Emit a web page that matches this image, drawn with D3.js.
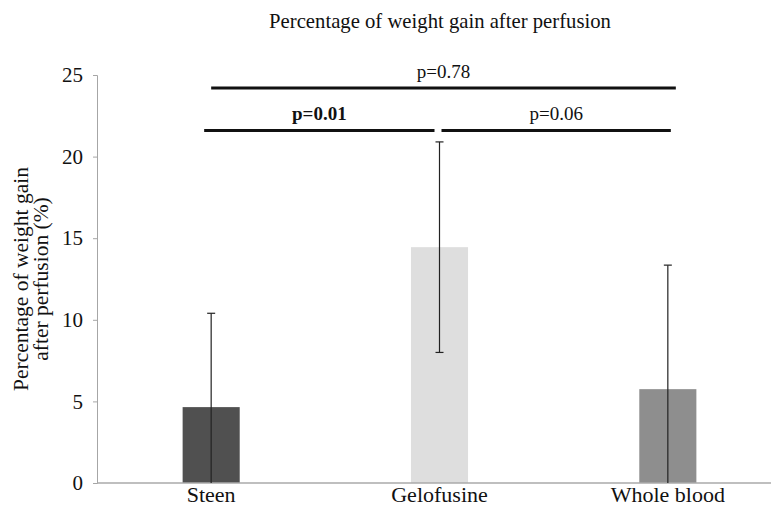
<!DOCTYPE html>
<html>
<head>
<meta charset="utf-8">
<script src="https://cdn.jsdelivr.net/npm/d3@7"></script>
</head>
<body style="margin:0; background:#fff">
<svg id="chart" width="771" height="506"></svg>
<script>
// data
const categories = ["Steen", "Gelofusine", "Whole blood"];
const means = [4.65, 14.45, 5.75];
const errors = [5.75, 6.45, 7.6];
const barColors = ["#505050", "#dedede", "#8e8e8e"];
const yTicks = [0, 5, 10, 15, 20, 25];

// significance brackets (level 0 = lower row)
const brackets = [
  { from: 0, to: 1, label: "p=0.01", bold: true, level: 0 },
  { from: 1, to: 2, label: "p=0.06", bold: false, level: 0 },
  { from: 0, to: 2, label: "p=0.78", bold: false, level: 1 }
];
const bracketLevels = [21.6, 24.2];

const FONT = '"Times New Roman", Tinos, "Liberation Serif"';
const svg = d3.select("#chart");
const plotLeft = 97, plotRight = 782, plotTop = 75, plotBottom = 483;

// every label gets the same serif face
function serif(sel, size) {
  return sel
    .style("font-family", FONT)
    .style("font-size", size + "px")
    .style("fill", "#111");
}

const x = d3.scaleBand()
  .domain(categories)
  .range([plotLeft, plotRight])
  .paddingInner(0.75)
  .paddingOuter(0.375);

const y = d3.scaleLinear().domain([0, 25]).range([plotBottom, plotTop]);

// title
serif(svg.append("text"), 20.7)
  .attr("x", 440).attr("y", 28)
  .attr("text-anchor", "middle")
  .text("Percentage of weight gain after perfusion");

// y axis
const yAxis = svg.append("g")
  .attr("transform", `translate(${plotLeft},0)`)
  .call(d3.axisLeft(y).tickValues(yTicks).tickSize(4).tickPadding(10));
yAxis.attr("font-family", null).attr("font-size", null);
yAxis.select(".domain").attr("stroke", "#a6a6a6");
yAxis.selectAll(".tick line").attr("stroke", "#a6a6a6");
serif(yAxis.selectAll(".tick text"), 21);

// y label, two lines
const yLabelLines = ["Percentage of weight gain", "after perfusion (%)"];
serif(svg.selectAll(".ylab")
  .data(yLabelLines)
  .enter()
  .append("text")
  .attr("class", "ylab"), 21.5)
  .attr("transform", (d, i) => `translate(${28 + i * 20},279) rotate(-90)`)
  .attr("text-anchor", "middle")
  .text(d => d);

// bars
svg.selectAll(".bar")
  .data(categories)
  .enter()
  .append("rect")
  .attr("class", "bar")
  .attr("x", d => x(d))
  .attr("width", x.bandwidth())
  .attr("y", (d, i) => y(means[i]))
  .attr("height", (d, i) => y(0) - y(means[i]))
  .attr("fill", (d, i) => barColors[i]);

// x axis line
svg.append("line")
  .attr("x1", plotLeft).attr("x2", 771)
  .attr("y1", y(0)).attr("y2", y(0))
  .attr("stroke", "#aaa").attr("stroke-width", 1.5);

// error bars (lower end clipped at 0)
const eb = svg.selectAll(".err")
  .data(categories)
  .enter()
  .append("g")
  .attr("class", "err")
  .attr("stroke", "#222")
  .attr("stroke-width", 1.2);

eb.each(function (d, i) {
  const g = d3.select(this);
  const cx = x(d) + x.bandwidth() / 2;
  const hi = means[i] + errors[i];
  const lo = Math.max(0, means[i] - errors[i]);
  g.append("line").attr("x1", cx).attr("x2", cx).attr("y1", y(hi)).attr("y2", y(lo));
  g.append("line").attr("x1", cx - 4).attr("x2", cx + 4).attr("y1", y(hi)).attr("y2", y(hi));
  if (lo > 0) {
    g.append("line").attr("x1", cx - 4).attr("x2", cx + 4).attr("y1", y(lo)).attr("y2", y(lo));
  }
});

// category labels
serif(svg.selectAll(".cat")
  .data(categories)
  .enter()
  .append("text")
  .attr("class", "cat"), 22)
  .attr("x", d => x(d) + x.bandwidth() / 2)
  .attr("y", 502)
  .attr("text-anchor", "middle")
  .text(d => d);

// brackets
const cxOf = i => x(categories[i]) + x.bandwidth() / 2;
brackets.forEach(b => {
  const yy = y(bracketLevels[b.level]);
  let x1 = cxOf(b.from), x2 = cxOf(b.to);
  if (b.level === 0) {
    x1 = b.from === 0 ? x1 - 7 : x1 + 2;
    x2 = b.to === 2 ? x2 + 3 : x2 - 5;
  } else {
    x2 += 8;
  }
  svg.append("line")
    .attr("x1", x1).attr("x2", x2)
    .attr("y1", yy).attr("y2", yy)
    .attr("stroke", "#111").attr("stroke-width", 3);
  serif(svg.append("text"), 19)
    .attr("x", (x1 + x2) / 2)
    .attr("y", yy - 10)
    .attr("text-anchor", "middle")
    .style("font-weight", b.bold ? "bold" : "normal")
    .text(b.label);
});
</script>
</body>
</html>
